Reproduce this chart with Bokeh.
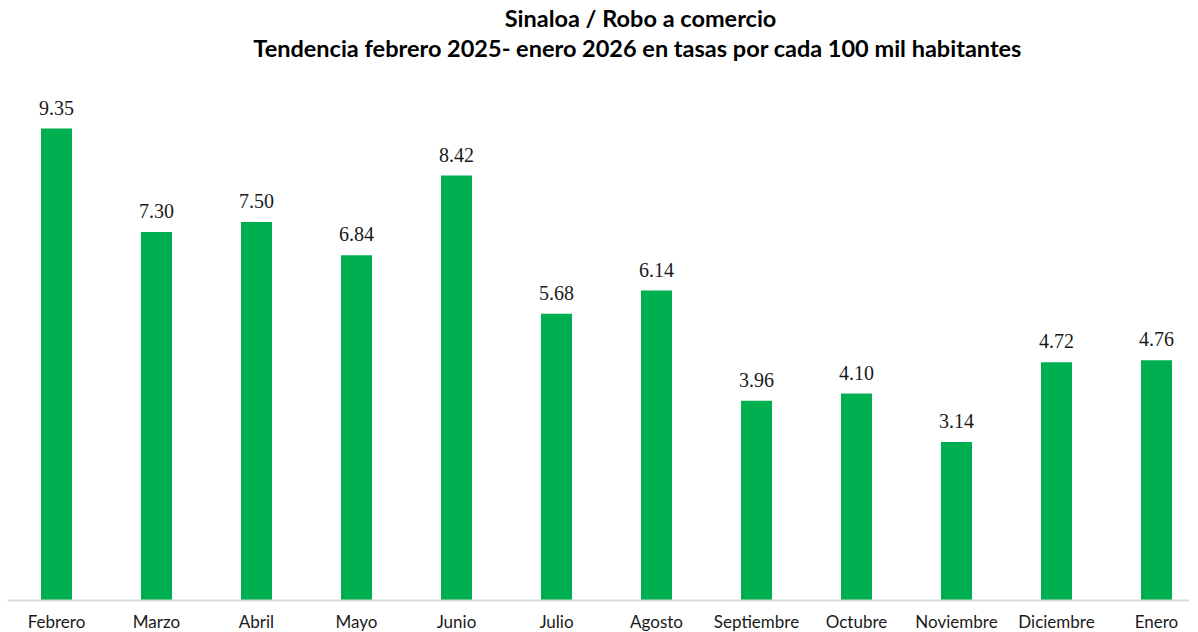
from bokeh.plotting import figure
from bokeh.models import ColumnDataSource, Range1d, FixedTicker, Label, LabelSet
from bokeh.embed import file_html
from bokeh.resources import INLINE

months = ["Febrero", "Marzo", "Abril", "Mayo", "Junio", "Julio", "Agosto",
          "Septiembre", "Octubre", "Noviembre", "Diciembre", "Enero"]
rates = [9.35, 7.30, 7.50, 6.84, 8.42, 5.68, 6.14, 3.96, 4.10, 3.14, 4.72, 4.76]
title1 = "Sinaloa / Robo a comercio"
title2 = "Tendencia febrero 2025- enero 2026 en tasas por cada  100 mil habitantes"

xs = list(range(len(months)))
src = ColumnDataSource(dict(x=xs, top=rates, lab=[f"{v:.2f}" for v in rates]))

FW, FH = 1182, 592
p = figure(frame_width=FW, frame_height=FH, output_backend="svg", toolbar_location=None,
           x_range=Range1d(-0.49, 11.33), y_range=Range1d(0, 11.73),
           min_border_left=7, min_border_right=0, min_border_top=8, min_border_bottom=0)
p.outline_line_color = None
p.grid.grid_line_color = None
p.yaxis.visible = False
p.background_fill_color = "white"

p.vbar(x="x", top="top", width=0.31, source=src, color="#00B050", line_color=None)

p.add_layout(LabelSet(x="x", y="top", text="lab", source=src, text_align="center",
                      text_baseline="bottom", y_offset=14, text_font="Liberation Serif",
                      text_font_size="20px", text_color="#1a1a1a"))

ax = p.xaxis[0]
ax.ticker = FixedTicker(ticks=xs)
ax.major_label_overrides = {i: m for i, m in enumerate(months)}
ax.major_tick_line_color = None
ax.major_tick_out = 0
ax.major_tick_in = 0
ax.minor_tick_line_color = None
ax.axis_line_color = "#D9D9D9"
ax.axis_line_width = 2
ax.major_label_text_font = "Lato"
ax.major_label_text_font_size = "17px"
ax.major_label_text_color = "#1a1a1a"
ax.major_label_standoff = 10

for t, yy in [(title1, FH - 9), (title2, FH - 39)]:
    p.add_layout(Label(x=633, y=yy, x_units="screen", y_units="screen", text=t,
                       text_align="center", text_baseline="middle", text_font="Lato",
                       text_font_style="bold", text_font_size="23.5px", text_color="#000000"))

open("out.html", "w").write(file_html(p, INLINE))
